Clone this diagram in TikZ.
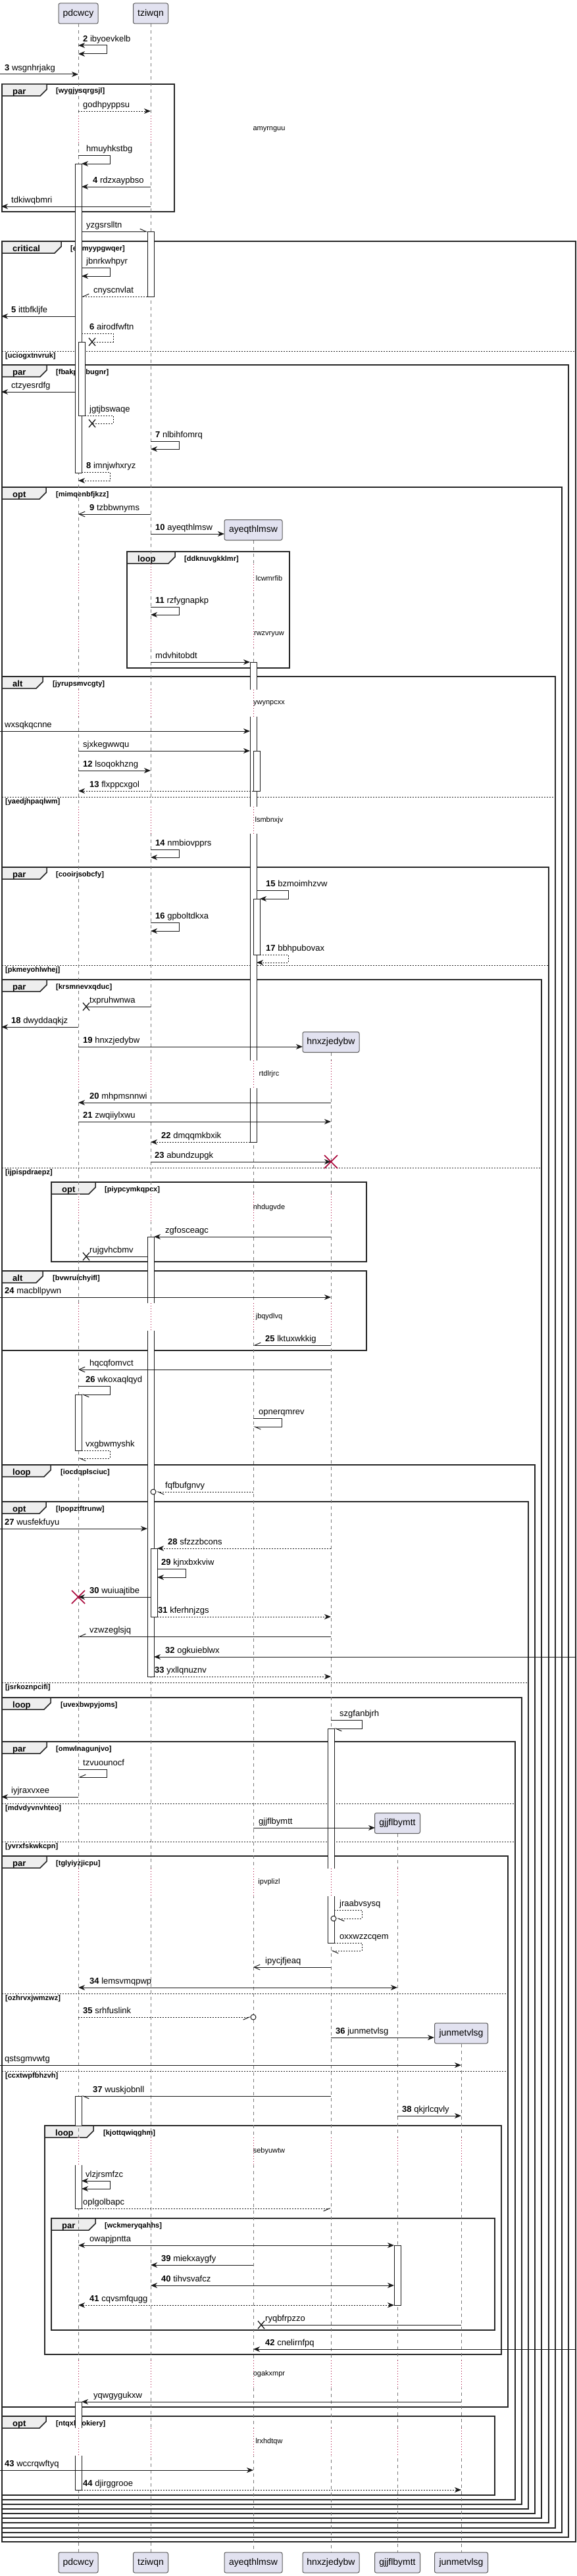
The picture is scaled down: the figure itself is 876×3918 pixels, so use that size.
\documentclass[tikz,border=0pt]{standalone}
\usepackage{fontspec}
\setmainfont{Liberation Sans}
\usetikzlibrary{arrows.meta}
\definecolor{partfill}{HTML}{E2E2F0}
\definecolor{partdraw}{HTML}{5A5A5A}
\definecolor{crim}{HTML}{A80036}
\definecolor{tabfill}{HTML}{EEEEEE}
\definecolor{lifegray}{HTML}{7A7A7A}
\tikzset{
  fah/.tip={Stealth[length=10pt,width=8pt,inset=3pt]},
  oah/.tip={Straight Barb[length=9pt,width=8pt]},
  hlh/.tip={Straight Barb[left,length=9pt,width=8pt]},
  hrh/.tip={Straight Barb[right,length=9pt,width=8pt]},
  msgline/.style={draw=black!90, line width=1pt},
  dotm/.style={dash pattern=on 2pt off 2pt},
  lbl/.style={anchor=base west, inner sep=0pt, font=\fontsize{13}{15}\selectfont},
  part/.style={draw=partdraw, fill=partfill, rounded corners=2.5pt, line width=1pt, minimum height=31pt, inner sep=0pt, font=\fontsize{14}{16}\selectfont},
  lifeline/.style={draw=lifegray, line width=0.8pt, dash pattern=on 5pt off 5pt},
  delayline/.style={draw=crim, line width=0.8pt, dash pattern=on 1pt off 3pt},
  delaytxt/.style={anchor=center, inner sep=0pt, font=\fontsize{11}{13}\selectfont},
  actbar/.style={draw=black!90, fill=white, line width=1pt},
  framebox/.style={draw=black!85, line width=1.5pt},
  tabbox/.style={draw=black!85, fill=tabfill, line width=1.5pt},
  kwlbl/.style={anchor=base west, inner sep=0pt, font=\bfseries\fontsize{13}{15}\selectfont},
  condlbl/.style={anchor=base west, inner sep=0pt, font=\bfseries\fontsize{11}{13}\selectfont},
  sepline/.style={draw=black!85, line width=1pt, dash pattern=on 2pt off 2pt},
}
\def\xP{119}\def\xT{229}\def\xA{385}\def\xH{503}\def\xG{604}\def\xJ{701}
\newcommand{\Msg}[7][]{%
  \coordinate (#2s) at (#3,#5);
  \coordinate (#2e) at (#4,#5);
  \draw[msgline,#1] (#2s) -- (#2e);
  \node[lbl] (#2t) at (#6,{#5-5.5}) {#7};}
\newcommand{\Slf}[9][]{%
  \coordinate (#2s) at (#3,#5);
  \coordinate (#2e) at (#7,#6);
  \draw[msgline,#1] (#2s) -- (#4,#5) -- (#4,#6) -- (#2e);
  \node[lbl] (#2t) at (#8,{#5-5.5}) {#9};}
\newcommand{\Grp}[9]{%
  \draw[framebox] (#2,#4) rectangle (#3,#5);
  \draw[tabbox] (#2,#4) -- ({#2+#7},#4) -- ({#2+#7},{#4+8}) -- ({#2+#7-10},{#4+18}) -- (#2,{#4+18}) -- cycle;
  \node[kwlbl] (#1k) at ({#2+16},{#4+15}) {#6};
  \node[condlbl] (#1c) at (#9,{#4+14}) {#8};}
\newcommand{\GSep}[5]{%
  \draw[sepline] (#2,#4) -- (#3,#4);
  \node[condlbl] (#1) at ({#2+5},{#4+10}) {#5};}
\newcommand{\Dly}[5]{%
  \foreach \xx in {#5}{\fill[white] ({\xx-1.5},#2) rectangle ({\xx+1.5},#3);
    \draw[delayline] (\xx,#2) -- (\xx,#3);}
  \node[delaytxt] (#1) at (409,{(#2+#3)/2}) {#4};}
\newcommand{\Act}[3]{\draw[actbar] (#1,#2) rectangle ({#1+10},#3);}
\newcommand{\ActT}[3]{\fill[white] (#1,#2) rectangle ({#1+10},#3); \draw[msgline] (#1,#3) -- (#1,#2) -- ({#1+10},#2) -- ({#1+10},#3);}
\newcommand{\ActM}[3]{\fill[white] (#1,#2) rectangle ({#1+10},#3); \draw[msgline] (#1,#2) -- (#1,#3) ({#1+10},#2) -- ({#1+10},#3);}
\newcommand{\ActB}[3]{\fill[white] (#1,#2) rectangle ({#1+10},#3); \draw[msgline] (#1,#2) -- (#1,#3) -- ({#1+10},#3) -- ({#1+10},#2);}
\newcommand{\LostX}[3]{\coordinate (#1) at (#2,#3);
  \draw[line width=1.3pt,black!90] ({#2-5},{#3-6}) -- ({#2+5},{#3+6}) ({#2-5},{#3+6}) -- ({#2+5},{#3-6});}
\newcommand{\DestX}[3]{\coordinate (#1) at (#2,#3);
  \draw[line width=1.6pt,crim] ({#2-10},{#3-10}) -- ({#2+10},{#3+10}) ({#2-10},{#3+10}) -- ({#2+10},{#3-10});}
\begin{document}
\begin{tikzpicture}[x=1pt,y=-1pt]
\useasboundingbox (0,0) rectangle (876,3918);
\fill[white] (0,0) rectangle (876,3918);
% ---------- frames
\Grp{gW}{3}{265}{128}{322}{par}{68}{[wygjysqrgsjl]}{85}
\Grp{gC}{3}{875}{367}{3866}{critical}{90}{[ertmyypgwqer]}{107}
\GSep{sC}{3}{875}{534}{[uciogxtnvruk]}
\Grp{gF}{3}{864}{555}{3859}{par}{68}{[fbakpyxbugnr]}{85}
\Grp{gM}{3}{854}{741}{3852}{opt}{67}{[mimqenbfjkzz]}{85}
\Grp{gD}{193}{440}{839}{1016}{loop}{73}{[ddknuvgkklmr]}{280}
\Grp{gJ}{3}{844}{1029}{3845}{alt}{62}{[jyrupsmvcgty]}{80}
\GSep{sJ}{3}{844}{1212}{[yaedjhpaqlwm]}
\Grp{gCo}{3}{834}{1319}{3837}{par}{68}{[cooirjsobcfy]}{85}
\GSep{sCo}{3}{834}{1468}{[pkmeyohlwhej]}
\Grp{gK}{3}{823}{1490}{3830}{par}{68}{[krsmnevxqduc]}{85}
\GSep{sK}{3}{823}{1776}{[ijpispdraepz]}
\Grp{gP}{78}{557}{1798}{1919}{opt}{67}{[piypcymkqpcx]}{159}
\Grp{gB}{3}{557}{1933}{2054}{alt}{62}{[bvwruichyifl]}{80}
\Grp{gI}{3}{813}{2228}{3823}{loop}{74}{[iocdqplsciuc]}{92}
\Grp{gL}{3}{803}{2284}{3816}{opt}{67}{[lpopztftrunw]}{85}
\GSep{sL}{3}{803}{2559}{[jsrkoznpcifi]}
\Grp{gU}{3}{793}{2582}{3809}{loop}{74}{[uvexbwpyjoms]}{92}
\Grp{gO}{3}{783}{2649}{3802}{par}{68}{[omwlnagunjvo]}{85}
\GSep{sOa}{3}{783}{2743}{[mdvdyvnvhteo]}
\GSep{sOb}{3}{783}{2801}{[yvrxfskwkcpn]}
\Grp{gT}{3}{772}{2823}{3661}{par}{68}{[tglyiyzjicpu]}{85}
\GSep{sTa}{3}{772}{3032}{[ozhrvxjwmzwz]}
\GSep{sTb}{3}{772}{3150}{[ccxtwpfbhzvh]}
\Grp{gKj}{68}{762}{3233}{3581}{loop}{74}{[kjottqwiqghm]}{157}
\Grp{gWc}{78}{752}{3374}{3544}{par}{67}{[wckmeryqahhs]}{159}
\Grp{gN}{3}{752}{3675}{3795}{opt}{67}{[ntqxkxokiery]}{85}
% ---------- participants
\node[part, minimum width=60pt] (pdcwcy) at (119,20.5) {pdcwcy};
\node[part, minimum width=53pt] (tziwqn) at (229,20.5) {tziwqn};
\node[part, minimum width=88pt] (ayeqthlmsw) at (385,806) {ayeqthlmsw};
\node[part, minimum width=86pt] (hnxzjedybw) at (503,1585) {hnxzjedybw};
\node[part, minimum width=69pt] (gjjflbymtt) at (604,2773) {gjjflbymtt};
\node[part, minimum width=81pt] (junmetvlsg) at (701,3092.5) {junmetvlsg};
\node[part, minimum width=60pt] (pdcwcyB) at (119,3897.5) {pdcwcy};
\node[part, minimum width=53pt] (tziwqnB) at (229,3897.5) {tziwqn};
\node[part, minimum width=88pt] (ayeqthlmswB) at (385,3897.5) {ayeqthlmsw};
\node[part, minimum width=86pt] (hnxzjedybwB) at (503,3897.5) {hnxzjedybw};
\node[part, minimum width=69pt] (gjjflbymttB) at (604,3897.5) {gjjflbymtt};
\node[part, minimum width=81pt] (junmetvlsgB) at (701,3897.5) {junmetvlsg};
\draw[lifeline] (pdcwcy.south) -- (pdcwcyB.north);
\draw[lifeline] (tziwqn.south) -- (tziwqnB.north);
\draw[lifeline] (ayeqthlmsw.south) -- (ayeqthlmswB.north);
\draw[lifeline] (hnxzjedybw.south) -- (hnxzjedybwB.north);
\draw[lifeline] (gjjflbymtt.south) -- (gjjflbymttB.north);
\draw[lifeline] (junmetvlsg.south) -- (junmetvlsgB.north);
% ---------- delays
\Dly{d1}{176}{218}{amyrnguu}{119,229}
\Dly{d2}{858}{901}{lcwmrfib}{119,229,385}
\Dly{d3}{944}{986}{rwzvryuw}{119,229,385}
\Dly{d4}{1049}{1090}{ywynpcxx}{119,229,385}
\Dly{d5}{1227}{1268}{lsmbnxjv}{119,229,385}
\Dly{d6}{1613}{1655}{rtdlrjrc}{119,229,385,503}
\Dly{d7}{1816}{1858}{nhdugvde}{119,229,385,503}
\Dly{d8}{1982}{2024}{jbqydlvq}{119,229,385,503}
\Dly{d9}{2842}{2884}{ipvplizl}{119,229,385,503,604}
\Dly{d10}{3251}{3293}{sebyuwtw}{119,229,385,503,604,701}
\Dly{d11}{3590}{3632}{ogakxmpr}{119,229,385,503,604,701}
\Dly{d12}{3693}{3735}{lrxhdtqw}{119,229,385,503,604,701}
% ---------- activations
\Act{114}{249}{719}
\Act{224}{352}{451}
\Act{119}{520}{632}
\ActT{380}{1007}{1049}
\ActM{380}{1090}{1227}
\ActM{380}{1268}{1613}
\ActB{380}{1655}{1737}
\Act{385}{1142}{1203}
\Act{385}{1367}{1452}
\ActT{224}{1881}{1982}
\ActB{224}{2024}{2550}
\Act{114}{2121}{2206}
\Act{229}{2355}{2459}
\ActT{498}{2629}{2842}
\ActB{498}{2884}{2955}
\ActT{114}{3188}{3233}
\ActB{114}{3293}{3359}
\Act{599}{3415}{3506}
\ActT{114}{3653}{3693}
\ActB{114}{3735}{3787}
% ---------- messages
\Slf[fah-fah]{m2}{119}{162}{69}{82}{119}{126}{\textbf{2} ibyoevkelb}
\Msg[-fah]{m3}{0}{119}{113}{7}{\textbf{3} wsgnhrjakg}
\Msg[dotm,-fah]{ma}{119}{229}{169}{126}{godhpyppsu}
\Slf[-fah]{mb}{119}{167}{236}{249}{124}{131}{hmuyhkstbg}
\Msg[-fah]{m4}{229}{124}{284}{141}{\textbf{4} rdzxaypbso}
\Msg[-fah]{mc}{229}{2}{314}{17}{tdkiwqbmri}
\Msg[-hlh]{md}{124}{224}{352}{131}{yzgsrslltn}
\Slf[-fah]{me}{124}{167}{407}{420}{124}{131}{jbnrkwhpyr}
\Msg[dotm,-hrh]{mf}{224}{124}{451}{142}{cnyscnvlat}
\Msg[-fah]{m5}{114}{2}{481}{17}{\textbf{5} ittbfkljfe}
\Slf[dotm]{m6}{124}{172}{507}{520}{140}{136}{\textbf{6} airodfwftn}
\LostX{x6}{140}{520}
\Msg[-fah]{mg}{114}{2}{596}{17}{ctzyesrdfg}
\Slf[dotm]{mh}{129}{172}{632}{644}{140}{136}{jgtjbswaqe}
\LostX{xh}{140}{644}
\Slf[-fah]{m7}{229}{272}{671}{683}{229}{236}{\textbf{7} nlbihfomrq}
\Slf[dotm,-fah]{m8}{124}{167}{718}{731}{119}{131}{\textbf{8} imnjwhxryz}
\Msg[-oah]{m9}{229}{119}{782}{136}{\textbf{9} tzbbwnyms}
\Msg[-fah]{m10}{229}{341}{812}{236}{\textbf{10} ayeqthlmsw}
\Slf[-fah]{m11}{229}{272}{923}{935}{229}{236}{\textbf{11} rzfygnapkp}
\Msg[-fah]{mi}{229}{380}{1007}{236}{mdvhitobdt}
\Msg[-fah]{mj}{0}{380}{1112}{7}{wxsqkqcnne}
\Msg[-fah]{mk}{119}{380}{1142}{126}{sjxkegwwqu}
\Msg[-fah]{m12}{119}{229}{1172}{126}{\textbf{12} lsoqokhzng}
\Msg[dotm,-fah]{m13}{385}{119}{1203}{136}{\textbf{13} flxppcxgol}
\Slf[-fah]{m14}{229}{272}{1292}{1304}{229}{236}{\textbf{14} nmbiovpprs}
\Slf[-fah]{m15}{390}{438}{1354}{1367}{395}{404}{\textbf{15} bzmoimhzvw}
\Slf[-fah]{m16}{229}{272}{1403}{1416}{229}{236}{\textbf{16} gpboltdkxa}
\Slf[dotm,-fah]{m17}{395}{438}{1452}{1464}{390}{404}{\textbf{17} bbhpubovax}
\Msg{ml}{229}{131}{1531}{136}{txpruhwnwa}
\LostX{xl}{131}{1531}
\Msg[-fah]{m18}{119}{2}{1562}{17}{\textbf{18} dwyddaqkjz}
\Msg[-fah]{m19}{119}{460}{1592}{126}{\textbf{19} hnxzjedybw}
\Msg[-fah]{m20}{503}{119}{1677}{136}{\textbf{20} mhpmsnnwi}
\Msg[-fah]{m21}{119}{503}{1706}{126}{\textbf{21} zwqiiylxwu}
\Msg[dotm,-fah]{m22}{380}{229}{1737}{245}{\textbf{22} dmqqmkbxik}
\Msg[-fah]{m23}{229}{503}{1767}{235}{\textbf{23} abundzupgk}
\DestX{x23}{503}{1767}
\Msg[-fah]{mm}{503}{234}{1881}{251}{zgfosceagc}
\Msg{mn}{224}{131}{1911}{136}{rujgvhcbmv}
\LostX{xn}{131}{1911}
\Msg[-fah]{m24}{0}{503}{1973}{7}{\textbf{24} macbllpywn}
\Msg[-hrh]{m25}{503}{385}{2046}{403}{\textbf{25} lktuxwkkig}
\Msg[-oah]{mo}{503}{119}{2083}{136}{hqcqfomvct}
\Slf[-hlh]{m26}{119}{167}{2108}{2121}{124}{130}{\textbf{26} wkoxaqlqyd}
\Slf[-hlh]{mp}{385}{428}{2157}{2170}{385}{393}{opnerqmrev}
\Slf[dotm,-hlh]{mq}{124}{167}{2206}{2218}{119}{130}{vxgbwmyshk}
\Msg[dotm,-hlh]{mr}{385}{238}{2269}{251}{fqfbufgnvy}
\draw[msgline,fill=white] (233,2269) circle[radius=4pt];
\Msg[-fah]{m27}{0}{224}{2325}{7}{\textbf{27} wusfekfuyu}
\Msg[dotm,-fah]{m28}{503}{239}{2355}{255}{\textbf{28} sfzzzbcons}
\Slf[-fah]{m29}{239}{282}{2386}{2399}{239}{245}{\textbf{29} kjnxbxkviw}
\Msg[-fah]{m30}{229}{119}{2429}{136}{\textbf{30} wuiuajtibe}
\DestX{x30}{119}{2429}
\Msg[dotm,-fah]{m31}{239}{503}{2459}{240}{\textbf{31} kferhnjzgs}
\Msg[-hrh]{ms}{503}{119}{2489}{136}{vzwzeglsjq}
\Msg[-fah]{m32}{876}{234}{2520}{251}{\textbf{32} ogkuieblwx}
\Msg[dotm,-fah]{m33}{234}{503}{2550}{235}{\textbf{33} yxllqnuznv}
\Slf[-hlh]{mt}{503}{550}{2616}{2629}{508}{516}{szgfanbjrh}
\Slf[-hrh]{mu}{119}{162}{2691}{2703}{119}{126}{tzvuounocf}
\Msg[-fah]{mv}{119}{2}{2733}{17}{iyjraxvxee}
\Msg[-fah]{mw}{385}{570}{2780}{393}{gjjflbymtt}
\Slf[dotm,-hlh]{mx}{508}{550}{2905}{2918}{512}{516}{jraabvsysq}
\draw[msgline,fill=white] (507,2918) circle[radius=4pt];
\Slf[dotm,-hlh]{my}{508}{550}{2955}{2967}{503}{516}{oxxwzzcqem}
\Msg[-oah]{mz}{503}{385}{2992}{403}{ipycjfjeaq}
\Msg[fah-fah]{m34}{119}{604}{3023}{136}{\textbf{34} lemsvmqpwp}
\Msg[dotm,-hrh]{m35}{119}{381}{3068}{126}{\textbf{35} srhfuslink}
\draw[msgline,fill=white] (385,3068) circle[radius=4pt];
\Msg[-fah]{m36}{503}{660}{3099}{510}{\textbf{36} junmetvlsg}
\Msg[-fah]{naa}{0}{701}{3141}{7}{qstsgmvwtg}
\Msg[-hlh]{m37}{503}{124}{3188}{141}{\textbf{37} wuskjobnll}
\Msg[-fah]{m38}{604}{701}{3218}{611}{\textbf{38} qkjrlcqvly}
\Slf[fah-fah]{nbb}{124}{167}{3317}{3329}{124}{130}{vlzjrsmfzc}
\Msg[dotm,-hrh]{ncc}{124}{503}{3359}{126}{oplgolbapc}
\Msg[fah-fah]{ndd}{119}{599}{3415}{136}{owapjpntta}
\Msg[-fah]{m39}{385}{229}{3445}{245}{\textbf{39} miekxaygfy}
\Msg[fah-fah]{m40}{229}{599}{3476}{245}{\textbf{40} tihvsvafcz}
\Msg[dotm,fah-fah]{m41}{119}{599}{3506}{136}{\textbf{41} cqvsmfqugg}
\Msg{nee}{701}{397}{3536}{403}{ryqbfrpzzo}
\LostX{xee}{397}{3536}
\Msg[-fah]{m42}{876}{385}{3573}{403}{\textbf{42} cnelirnfpq}
\Msg[-fah]{nff}{701}{124}{3653}{142}{yqwgygukxw}
\Msg[-fah]{m43}{0}{385}{3757}{7}{\textbf{43} wccrqwftyq}
\Msg[dotm,-fah]{m44}{124}{701}{3787}{126}{\textbf{44} djirggrooe}
\end{tikzpicture}
\end{document}
